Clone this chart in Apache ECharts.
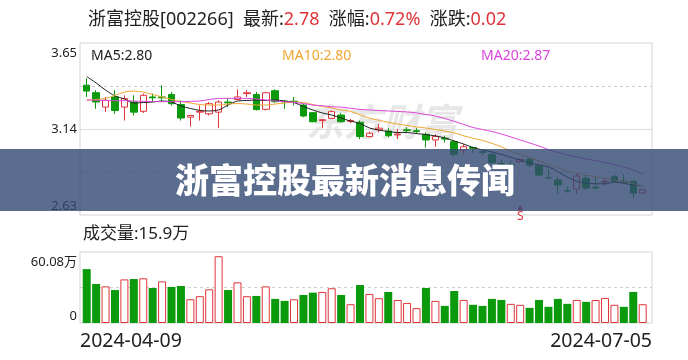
<!DOCTYPE html>
<html><head><meta charset="utf-8">
<script src="https://cdn.jsdelivr.net/npm/echarts@6/dist/echarts.min.js"></script>
<style>html,body{margin:0;padding:0;background:#fff}#c{width:688px;height:360px}</style>
</head><body><div id="c"></div>
<script>
const stockName = '浙富控股';
const stockCode = '002266';
const bannerText = '浙富控股最新消息传闻';
const watermarkText = '东方财富';

const dates = ['2024-04-09','2024-04-10','2024-04-11','2024-04-12','2024-04-15','2024-04-16','2024-04-17','2024-04-18','2024-04-19','2024-04-22','2024-04-23','2024-04-24','2024-04-25','2024-04-26','2024-04-29','2024-04-30',
'2024-05-06','2024-05-07','2024-05-08','2024-05-09','2024-05-10','2024-05-13','2024-05-14','2024-05-15','2024-05-16','2024-05-17','2024-05-20','2024-05-21','2024-05-22','2024-05-23','2024-05-24','2024-05-27','2024-05-28','2024-05-29','2024-05-30','2024-05-31',
'2024-06-03','2024-06-04','2024-06-05','2024-06-06','2024-06-07','2024-06-11','2024-06-12','2024-06-13','2024-06-14','2024-06-17','2024-06-18','2024-06-19','2024-06-20','2024-06-21','2024-06-24','2024-06-25','2024-06-26','2024-06-27','2024-06-28',
'2024-07-01','2024-07-02','2024-07-03','2024-07-04','2024-07-05'];

const opens  = [3.40,3.355,3.27,3.33,3.27,3.30,3.245,3.33,3.33,3.345,3.285,3.21,3.24,3.23,3.24,3.30,3.315,3.35,3.345,3.257,3.367,3.305,3.305,3.282,3.237,3.19,3.203,3.223,3.185,3.18,3.095,3.135,3.128,3.105,3.135,3.13,3.108,3.075,3.085,3.065,3.015,3.03,3.005,2.99,2.935,2.93,2.946,2.96,2.92,2.852,2.838,2.775,2.783,2.848,2.795,2.825,2.857,2.83,2.83,2.76];
const closes = [3.365,3.30,3.31,3.25,3.32,3.24,3.34,3.325,3.325,3.29,3.205,3.22,3.245,3.29,3.30,3.295,3.33,3.355,3.255,3.355,3.302,3.30,3.30,3.217,3.183,3.195,3.243,3.183,3.19,3.095,3.115,3.145,3.10,3.11,3.13,3.125,3.075,3.095,3.08,2.99,3.035,3.025,3.00,2.94,2.93,2.925,2.96,2.926,2.867,2.85,2.808,2.772,2.861,2.79,2.79,2.83,2.83,2.825,2.76,2.78];
const lows   = [3.33,3.26,3.24,3.23,3.19,3.22,3.235,3.30,3.30,3.28,3.19,3.155,3.19,3.22,3.145,3.27,3.315,3.33,3.25,3.25,3.295,3.26,3.28,3.21,3.18,3.145,3.20,3.18,3.175,3.08,3.09,3.12,3.09,3.08,3.115,3.11,3.03,3.035,3.06,2.975,2.99,3.00,2.985,2.93,2.925,2.92,2.94,2.915,2.86,2.845,2.755,2.762,2.755,2.78,2.782,2.802,2.82,2.818,2.73,2.755];
const highs  = [3.44,3.37,3.33,3.37,3.34,3.34,3.35,3.35,3.40,3.36,3.31,3.225,3.28,3.30,3.31,3.32,3.375,3.37,3.36,3.36,3.375,3.31,3.33,3.29,3.24,3.20,3.25,3.235,3.20,3.19,3.125,3.17,3.145,3.14,3.15,3.145,3.12,3.11,3.10,3.075,3.05,3.035,3.015,3.00,2.96,2.952,2.965,2.97,2.93,2.905,2.857,2.798,2.877,2.87,2.857,2.851,2.87,2.873,2.835,2.785];

const ma5  = [3.451,3.413,3.371,3.336,3.318,3.294,3.297,3.300,3.306,3.300,3.276,3.262,3.250,3.247,3.253,3.282,3.306,3.309,3.312,3.309,3.312,3.306,3.297,3.273,3.253,3.235,3.223,3.205,3.187,3.173,3.146,3.134,3.125,3.119,3.119,3.113,3.107,3.099,3.087,3.069,3.051,3.030,3.016,3.004,2.989,2.972,2.956,2.938,2.927,2.915,2.887,2.855,2.830,2.820,2.815,2.815,2.825,2.818,2.808,2.803];
const ma10 = [3.312,3.315,3.321,3.339,3.359,3.365,3.359,3.345,3.330,3.315,3.303,3.294,3.285,3.282,3.282,3.288,3.291,3.288,3.282,3.282,3.288,3.294,3.300,3.297,3.285,3.273,3.265,3.253,3.245,3.224,3.204,3.192,3.179,3.170,3.161,3.152,3.146,3.137,3.128,3.117,3.100,3.085,3.072,3.055,3.035,3.008,2.990,2.970,2.950,2.930,2.910,2.890,2.877,2.866,2.857,2.848,2.838,2.828,2.815,2.803];
const ma20 = [3.312,3.311,3.309,3.308,3.308,3.306,3.304,3.303,3.302,3.302,3.302,3.304,3.306,3.315,3.321,3.322,3.322,3.321,3.318,3.312,3.306,3.302,3.298,3.291,3.282,3.278,3.272,3.270,3.263,3.256,3.253,3.250,3.247,3.244,3.241,3.235,3.226,3.217,3.202,3.185,3.167,3.149,3.137,3.125,3.110,3.093,3.075,3.057,3.039,3.018,3.001,2.986,2.974,2.962,2.953,2.941,2.929,2.915,2.897,2.872];

const volumes = [45.6,33.0,31.0,27.9,36.9,37.2,37.8,29.6,35.2,30.5,31.3,20.1,22.7,28.5,56.5,27.9,34.4,22.7,22.9,31.0,20.4,18.7,20.1,23.7,25.7,26.3,29.4,23.7,15.9,32.1,24.6,21.0,26.3,19.5,17.0,12.6,29.6,18.7,14.5,27.1,19.5,15.4,14.5,20.4,19.5,16.2,15.4,12.8,19.5,13.7,20.4,16.2,19.5,17.9,19.5,21.2,15.4,13.7,26.3,15.9];
const volUp = [0,0,1,0,1,0,1,0,1,0,0,1,1,1,1,0,1,1,0,1,0,0,1,0,0,1,1,0,1,0,1,1,0,1,1,1,0,1,0,0,1,0,0,0,0,1,1,0,0,0,0,0,1,0,1,1,1,0,0,1];

const priceTickLabels = ['2.63', '3.14', '3.65'];
const priceMin = 2.63, priceMax = 3.65;
const volMax = 60.08;
const volTickLabels = ['0', '60.08万'];
const sellSignal = { index: 46, price: 2.69, text: 'S' };

const RED = '#e0343a', GREEN = '#0b9a0b';
const FONT = "'Noto Sans', 'Noto Sans CJK SC', sans-serif";
const CJK = "'Noto Sans CJK SC', sans-serif";

const n = closes.length;
const last = closes[n - 1], prev = closes[n - 2];
const chg = (last - prev).toFixed(2);
const pct = ((last - prev) / prev * 100).toFixed(2);

const chart = echarts.init(document.getElementById('c'), null, { renderer: 'canvas' });

const labelRich = (size) => ({
  t: { padding: [20, 0, 0, 0], fontSize: size, color: '#222', fontFamily: FONT },
  m: { fontSize: size, color: '#222', fontFamily: FONT },
  b: { padding: [0, 0, 18, 0], fontSize: size, color: '#222', fontFamily: FONT },
  b2: { padding: [0, 0, 14, 0], fontSize: size, color: '#222', fontFamily: FONT }
});

const option = {
  animation: false,
  backgroundColor: '#fff',
  title: [
    { left: 88, top: 10, padding: 0,
      text: `{n|${stockName}[${stockCode}]}  {n|最新:}{r|${last.toFixed(2)}}  {n|涨幅:}{r|${pct}%}  {n|涨跌:}{r|${chg}}`,
      textStyle: { fontSize: 18, lineHeight: 20, fontFamily: FONT, fontWeight: 'normal',
        rich: { n: { fontSize: 18, color: '#222', fontFamily: FONT }, r: { fontSize: 18, color: RED, fontFamily: FONT } } } },
    { left: 91, top: 49, padding: 0, text: 'MA5:' + ma5[n - 1].toFixed(2),
      textStyle: { fontSize: 14, lineHeight: 14, color: '#222', fontWeight: 'normal', fontFamily: FONT } },
    { left: 282, top: 49, padding: 0, text: 'MA10:' + ma10[n - 1].toFixed(2),
      textStyle: { fontSize: 14, lineHeight: 14, color: '#f0a732', fontWeight: 'normal', fontFamily: FONT } },
    { left: 481, top: 49, padding: 0, text: 'MA20:' + ma20[n - 1].toFixed(2),
      textStyle: { fontSize: 14, lineHeight: 14, color: '#dc45dc', fontWeight: 'normal', fontFamily: FONT } },
    { left: 83, top: 225, padding: 0, text: '成交量:' + volumes[n - 1].toFixed(1) + '万',
      textStyle: { fontSize: 17, lineHeight: 18, color: '#222', fontWeight: 'normal', fontFamily: FONT } }
  ],
  grid: [
    { left: 80, right: 36, top: 43, height: 172, show: true, borderColor: '#d3d3d3', borderWidth: 1, backgroundColor: 'transparent' },
    { left: 82, right: 40.6, top: 43, height: 172 },
    { left: 80, right: 36, top: 252, height: 71, show: true, borderColor: '#d3d3d3', borderWidth: 1, backgroundColor: 'transparent' },
    { left: 82, right: 40.6, top: 252, height: 71 }
  ],
  xAxis: [
    { gridIndex: 0, type: 'value', min: 0, max: 1, show: false },
    { gridIndex: 1, type: 'category', data: dates, show: false, boundaryGap: true },
    { gridIndex: 2, type: 'value', min: 0, max: 1, interval: 1, position: 'bottom',
      axisLine: { show: false }, axisTick: { show: false }, splitLine: { show: false },
      axisLabel: { align: 'left', margin: 9, fontSize: 19.5, color: '#222', fontFamily: FONT,
        formatter: v => v === 0 ? dates[0] : '' } },
    { gridIndex: 2, type: 'value', min: 0, max: 1, interval: 1, position: 'bottom',
      axisLine: { show: false }, axisTick: { show: false }, splitLine: { show: false },
      axisLabel: { align: 'right', margin: 9, fontSize: 19.5, color: '#222', fontFamily: FONT,
        formatter: v => v === 1 ? dates[n - 1] : '' } },
    { gridIndex: 3, type: 'category', data: dates, show: false, boundaryGap: true }
  ],
  yAxis: [
    { gridIndex: 0, type: 'value', min: 0, max: 4, interval: 1,
      axisLine: { show: false }, axisTick: { show: false },
      splitLine: { show: true, lineStyle: { color: ['transparent', '#cfcfcf', 'transparent', '#cfcfcf', 'transparent'], type: [3, 3], width: 1 } },
      axisLabel: { margin: 3, fontSize: 13, color: '#222', fontFamily: FONT, rich: labelRich(13),
        formatter: v => v === 0 ? '{b|' + priceTickLabels[0] + '}' : v === 2 ? '{m|' + priceTickLabels[1] + '}' : v === 4 ? '{t|' + priceTickLabels[2] + '}' : '' } },
    { gridIndex: 0, type: 'value', min: 0, max: 4, interval: 2,
      axisLine: { show: false }, axisTick: { show: false }, axisLabel: { show: false },
      splitLine: { show: true, lineStyle: { color: ['transparent', '#dcdcdc', 'transparent'], width: 1 } } },
    { gridIndex: 1, type: 'value', min: priceMin, max: priceMax, show: false, splitLine: { show: false } },
    { gridIndex: 2, type: 'value', min: 0, max: 2, interval: 1,
      axisLine: { show: false }, axisTick: { show: false },
      splitLine: { show: true, lineStyle: { color: ['transparent', '#cfcfcf', 'transparent'], type: [3, 3], width: 1 } },
      axisLabel: { margin: 3, fontSize: 13, color: '#222', fontFamily: FONT, rich: labelRich(13),
        formatter: v => v === 0 ? '{b2|' + volTickLabels[0] + '}' : v === 2 ? '{t|' + volTickLabels[1] + '}' : '' } },
    { gridIndex: 3, type: 'value', min: 0, max: volMax, show: false, splitLine: { show: false } }
  ],
  graphic: [
    { type: 'text', x: 306, y: 103, z: 0, silent: true,
      style: { text: watermarkText, font: 'italic bold 38px ' + CJK, fill: '#e7e7e7' } },
    { type: 'rect', z: 100, silent: true, shape: { x: 0, y: 149, width: 688, height: 62 },
      style: { fill: 'rgba(50,72,115,0.8)' } },
    { type: 'text', z: 101, x: 345, y: 180, silent: true,
      style: { text: bannerText, fill: '#ffffff', font: '900 34px ' + CJK,
        align: 'center', verticalAlign: 'middle', textAlign: 'center', textVerticalAlign: 'middle' } }
  ],
  series: [
    { type: 'candlestick', xAxisIndex: 1, yAxisIndex: 2, barWidth: 7,
      data: dates.map((d, i) => [opens[i], closes[i], lows[i], highs[i]]),
      itemStyle: { color: '#ffffff', color0: GREEN, borderColor: RED, borderColor0: GREEN, borderWidth: 1 },
      markPoint: {
        silent: true,
        data: [{ coord: [dates[sellSignal.index], sellSignal.price], symbol: 'arrow', symbolSize: [5, 6],
          itemStyle: { color: RED },
          label: { show: true, position: 'bottom', distance: 0, formatter: sellSignal.text, color: RED, fontSize: 12, fontFamily: FONT } }]
      } },
    { type: 'line', name: 'MA5', xAxisIndex: 1, yAxisIndex: 2, data: ma5, showSymbol: false, smooth: 0.3,
      lineStyle: { color: '#222', width: 1 }, z: 3 },
    { type: 'line', name: 'MA10', xAxisIndex: 1, yAxisIndex: 2, data: ma10, showSymbol: false, smooth: 0.3,
      lineStyle: { color: '#f0a732', width: 1 }, z: 3 },
    { type: 'line', name: 'MA20', xAxisIndex: 1, yAxisIndex: 2, data: ma20, showSymbol: false, smooth: 0.3,
      lineStyle: { color: '#dc45dc', width: 1 }, z: 3 },
    { type: 'bar', xAxisIndex: 4, yAxisIndex: 4, barWidth: 8,
      data: volumes.map((v, i) => ({ value: v,
        itemStyle: volUp[i] ? { color: '#ffffff', borderColor: RED, borderWidth: 1 } : { color: GREEN, borderColor: GREEN, borderWidth: 0 } })) }
  ]
};
chart.setOption(option);
</script>
</body></html>
